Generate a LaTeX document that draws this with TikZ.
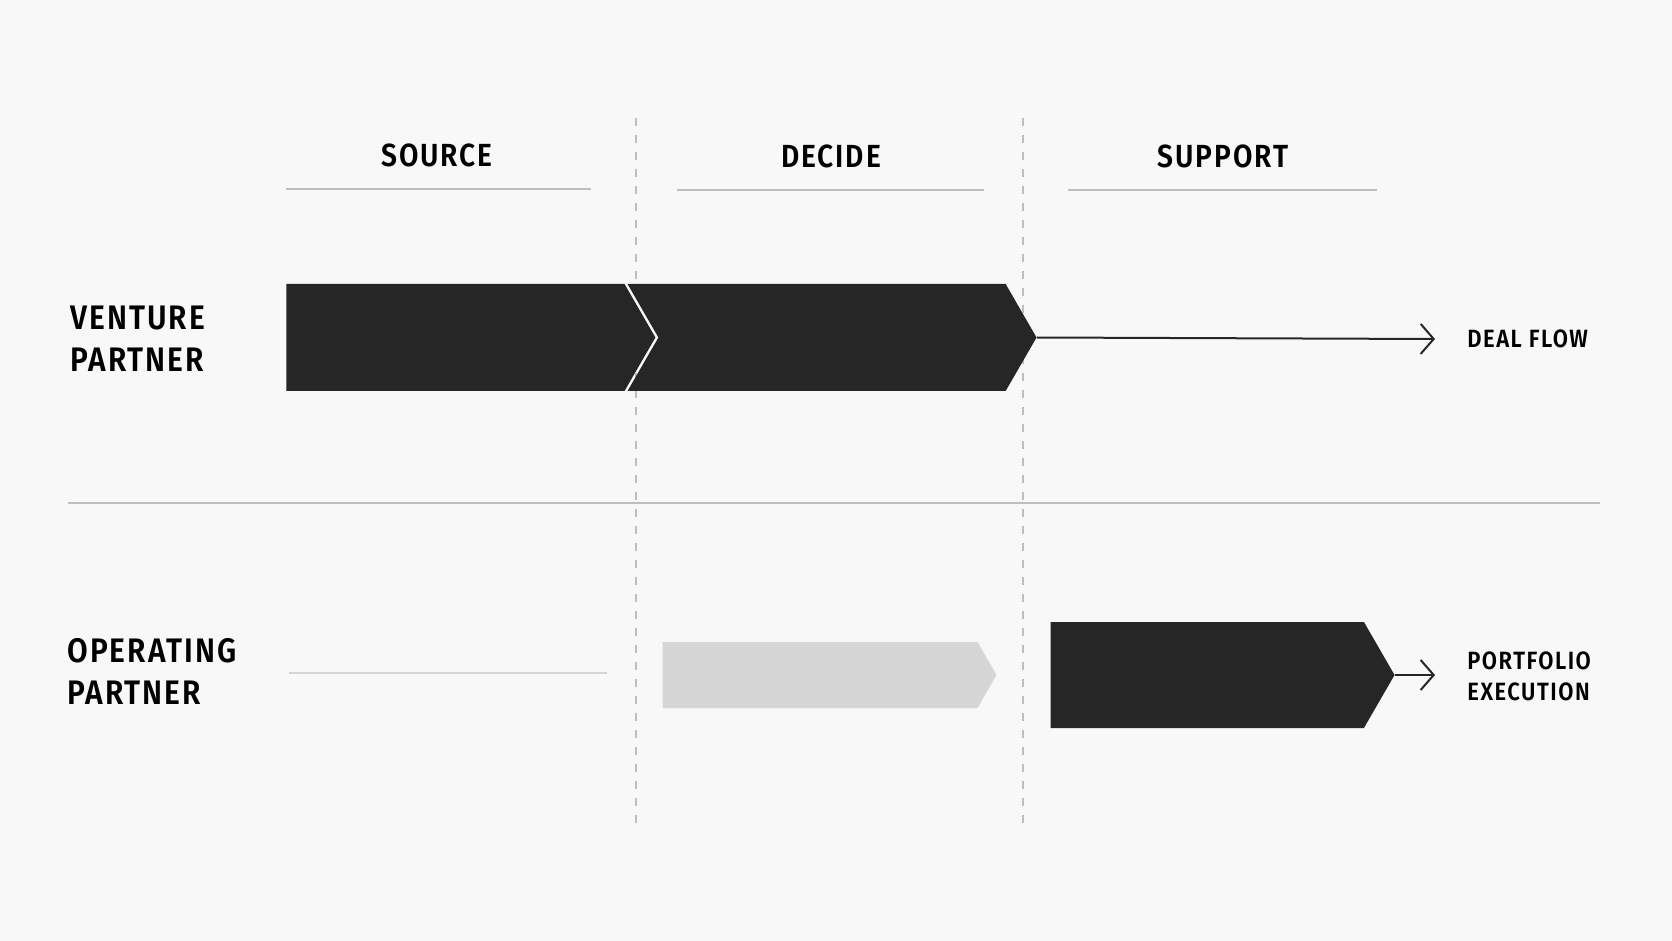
\documentclass[tikz,border=0pt]{standalone}
\usepackage{fontspec}
\setmainfont{Fira Sans}[BoldFont={Fira Sans SemiBold}, FakeStretch=0.88, LetterSpace=6]
\usetikzlibrary{arrows.meta,positioning,shapes.symbols}
\definecolor{bgpaper}{RGB}{248,248,248}
\definecolor{inkdark}{RGB}{38,38,38}
\definecolor{inkpale}{RGB}{214,214,214}
\definecolor{rulegray}{RGB}{190,190,190}

\begin{document}
\begin{tikzpicture}[
    x=0.5pt, y=-0.5pt,
    phase/.style={signal, signal to=east, signal pointer angle=120, inner sep=0pt, fill=inkdark, draw=none},
    header/.style={font=\fontsize{16}{19}\selectfont\bfseries, anchor=base, inner sep=0pt},
    role/.style={font=\fontsize{17}{21}\selectfont\bfseries, align=left, anchor=west, inner sep=0pt},
    outcome/.style={font=\fontsize{12.5}{15.5}\selectfont\bfseries, align=left, anchor=west, inner sep=0pt},
    arrow/.style={-{Straight Barb[length=6.5pt, width=15pt]}, inkdark, line width=1pt},
    rule/.style={rulegray, line width=1pt}
]
\fill[bgpaper] (0,0) rectangle (1672,941);
\useasboundingbox (0,0) rectangle (1672,941);

% Column headers
\node[header] (source) at (437,167) {SOURCE};
\node[header] (decide) at (831,168) {DECIDE};
\node[header] (support) at (1223,168) {SUPPORT};
\draw[rule] (286,189) -- (591,189);
\draw[rule] (677,190) -- (984,190);
\draw[rule] (1068,190) -- (1377,190);

% Phase dividers
\draw[rulegray, line width=0.8pt, dash pattern=on 4pt off 4.5pt] (636,118) -- (636,824);
\draw[rulegray, line width=0.8pt, dash pattern=on 4pt off 4.5pt] (1023,118) -- (1023,824);
\draw[rule] (68,503) -- (1600,503);

% Venture partner row
\node[role] (venture) at (70,339) {VENTURE\\PARTNER};
\node[phase, anchor=west, minimum width=184.5pt, minimum height=53.5pt] (vpsource) at (286,337.5) {};
\node[phase, signal from=west, anchor=east, minimum width=204.5pt, minimum height=53.5pt] (vpdecide) at (1037,337.5) {};
\node[outcome] (dealflow) at (1467,339) {DEAL FLOW};
\draw[arrow] (vpdecide.east) -- (dealflow.west -| 1435,0);

% Operating partner row
\node[role] (operating) at (67,671) {OPERATING\\PARTNER};
\draw[inkpale, line width=1pt] (289,673) -- (607,673);
\node[phase, fill=inkpale, anchor=east, minimum width=167pt, minimum height=33pt] (opdecide) at (997,675) {};
\node[phase, anchor=east, minimum width=172pt, minimum height=53pt] (opsupport) at (1395,675) {};
\node[outcome] (portfolio) at (1467,676) {PORTFOLIO\\EXECUTION};
\draw[arrow] (opsupport.east) -- (opsupport.east -| 1435,0);

\end{tikzpicture}
\end{document}
